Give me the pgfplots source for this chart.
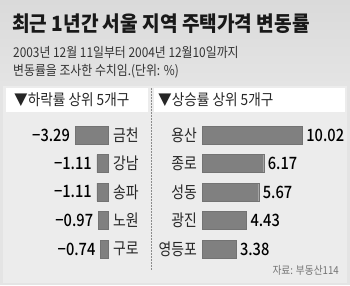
\documentclass[border=0pt]{standalone}
\usepackage{pgfplots}
\pgfplotsset{compat=1.18}
\usepackage{fontspec}
\setmainfont{Noto Sans CJK KR}[FakeStretch=0.88]
\newfontfamily\condfont{Noto Sans CJK KR}[FakeStretch=0.84]
\newfontfamily\numfont{Noto Sans CJK KR Medium}[FakeStretch=0.86]
\definecolor{bg}{HTML}{E4E4E4}
\definecolor{bgtop}{HTML}{DADADA}
\definecolor{panel}{HTML}{ECECEC}
\definecolor{barc}{HTML}{808080}
\newcommand{\fs}[1]{\fontsize{#1}{#1}\selectfont}
\begin{document}
\begin{tikzpicture}
\fill[bg] (0pt,0pt) rectangle (350pt,285pt);
\shade[top color=bgtop, bottom color=bg] (0pt,285pt) rectangle (350pt,200pt);
\fill[panel] (3pt,2pt) rectangle (347pt,199pt);
\fill[white] (6pt,197pt) rectangle (148pt,173pt);
\fill[white] (154pt,197pt) rectangle (345pt,173pt);
\draw[black!45, dash pattern=on 1.5pt off 1.5pt, line width=0.7pt] (151pt,197pt) -- (151pt,15pt);
\node[anchor=west, inner sep=0, font=\bfseries\fs{21}, text=black!90] at (12pt,261pt) {\scalebox{1.035}[1]{최근 1년간 서울 지역 주택가격 변동률}};
\node[anchor=west, inner sep=0, font=\fs{13.5}, text=black!80] at (13pt,233pt) {2003년 12월 11일부터 2004년 12월10일까지};
\node[anchor=west, inner sep=0, font=\fs{13.5}, text=black!80] at (13pt,214pt) {변동률을 조사한 수치임.(단위: \%)};
\node[anchor=west, inner sep=0, font=\fs{15.5}, text=black!85] at (14pt,185pt) {▼하락률 상위 5개구};
\node[anchor=west, inner sep=0, font=\fs{15.5}, text=black!85] at (158pt,185pt) {▼상승률 상위 5개구};
\node[anchor=east, inner sep=0, font=\fs{11}, text=black!55] at (339pt,15pt) {자료: 부동산114};

\begin{axis}[at={(108pt,164.25pt)}, anchor=north east, xbar, x=10pt, y=28.5pt, y dir=reverse,
  xmin=-3.6, xmax=0, ymin=0.5, ymax=5.5, bar width=18pt,
  axis line style={draw=none}, major tick length=0pt, xtick=\empty,
  ytick={1,2,3,4,5}, yticklabels={금천,강남,송파,노원,구로}, yticklabel pos=right,
  yticklabel style={anchor=west, inner sep=0pt, xshift=5pt, font=\condfont\fs{16.5}, text=black!85},
  point meta=explicit symbolic, nodes near coords,
  every node near coord/.append style={anchor=east, inner sep=0pt, xshift=-5pt, font=\numfont\fs{17}, text=black},
  clip=false]
\addplot[fill=barc, draw=black!55, line width=0.4pt] coordinates {(-3.29,1) [−3.29] (-1.11,2) [−1.11] (-1.11,3) [−1.11] (-0.97,4) [−0.97] (-0.74,5) [−0.74]};
\end{axis}

\begin{axis}[at={(202pt,164.25pt)}, anchor=north west, xbar, x=10pt, y=28.5pt, y dir=reverse,
  xmin=0, xmax=10.5, ymin=0.5, ymax=5.5, bar width=18pt,
  axis line style={draw=none}, major tick length=0pt, xtick=\empty,
  ytick={1,2,3,4,5}, yticklabels={용산,종로,성동,광진,영등포},
  yticklabel style={anchor=east, inner sep=0pt, xshift=-5pt, font=\condfont\fs{16.5}, text=black!85},
  point meta=explicit symbolic, nodes near coords,
  every node near coord/.append style={anchor=west, inner sep=0pt, xshift=4pt, font=\numfont\fs{17}, text=black},
  clip=false]
\addplot[fill=barc, draw=black!55, line width=0.4pt] coordinates {(10.02,1) [10.02] (6.17,2) [6.17] (5.67,3) [5.67] (4.43,4) [4.43] (3.38,5) [3.38]};
\end{axis}
\pgfresetboundingbox
\useasboundingbox (0pt,0pt) rectangle (350pt,285pt);
\end{tikzpicture}
\end{document}
